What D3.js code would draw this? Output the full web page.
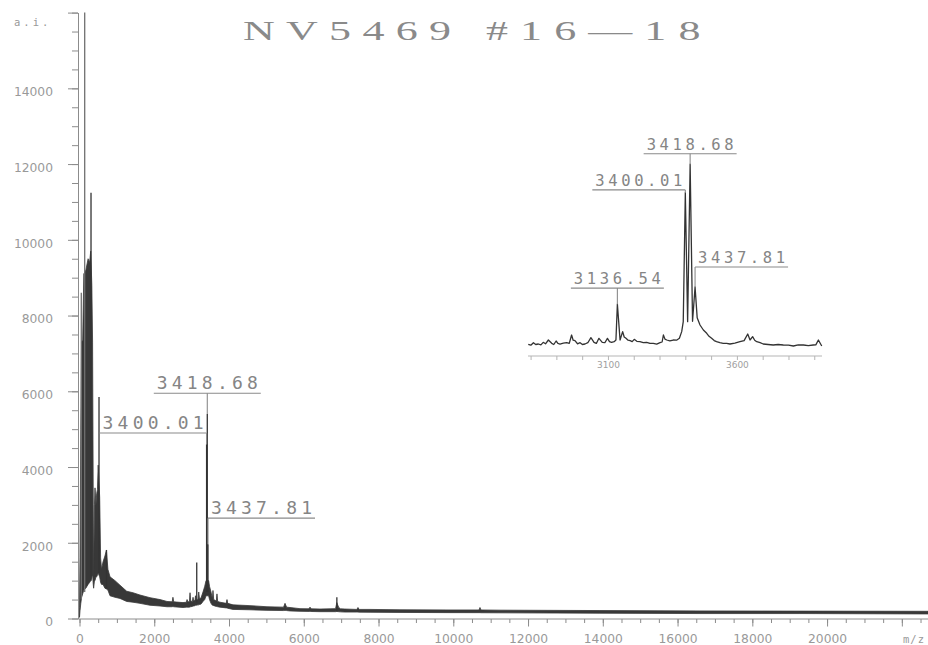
<!DOCTYPE html>
<html>
<head>
<meta charset="utf-8">
<script src="https://cdn.jsdelivr.net/npm/d3@7"></script>
<style>
	body { margin: 0; background: #ffffff; }
	svg { display: block; }
</style>
</head>
<body>
<svg id="spectrum-plot" width="928" height="645" viewBox="0 0 928 645"></svg>
<script>

// overview trace, read as a noise band: [m/z, lower edge, upper edge] in a.i.
const overview_band = [
	[0, 30, 300], [13, 200, 1600], [35, 400, 5000], [55, 550, 7300], [85, 650, 7350],
	[115, 750, 9100], [170, 800, 9200], [230, 900, 9500], [270, 950, 9400], [300, 1000, 9700],
	[330, 1100, 8800], [350, 1150, 7300], [368, 900, 3000], [378, 800, 1100], [400, 1000, 3000],
	[415, 1000, 3450], [440, 1100, 3000], [460, 1100, 3300], [480, 1150, 3400], [500, 1200, 4050],
	[540, 1100, 3200], [565, 950, 1600], [590, 900, 1300], [630, 900, 1500], [680, 800, 1650],
	[720, 780, 1800], [760, 750, 1300], [816, 600, 1100], [950, 560, 1000], [1083, 530, 880],
	[1263, 450, 720], [1431, 430, 680], [1618, 400, 620], [1886, 350, 550], [2154, 330, 500],
	[2341, 310, 450], [2480, 310, 440], [2500, 320, 560], [2520, 310, 440], [2769, 290, 420],
	[2860, 300, 430], [2877, 300, 500], [2900, 300, 440], [2940, 300, 440], [2957, 310, 680],
	[2975, 310, 460], [3020, 320, 450], [3037, 330, 560], [3055, 330, 460], [3090, 340, 480],
	[3103, 350, 600], [3118, 350, 480], [3170, 360, 500], [3190, 360, 700], [3210, 370, 520],
	[3250, 380, 540], [3304, 450, 700], [3350, 500, 850], [3385, 600, 1000], [3455, 600, 1000],
	[3478, 500, 850], [3518, 400, 700], [3555, 350, 520], [3571, 350, 740], [3590, 340, 500],
	[3660, 320, 460], [3678, 320, 650], [3696, 310, 450], [3759, 300, 430], [3925, 280, 400],
	[3946, 280, 500], [3965, 270, 400], [4107, 240, 360], [4561, 230, 340], [5016, 215, 310],
	[5460, 210, 300], [5498, 215, 400], [5540, 210, 300], [5631, 200, 290], [5899, 190, 260],
	[6140, 188, 255], [6167, 190, 300], [6195, 185, 255], [6434, 180, 250], [6850, 180, 260],
	[6885, 185, 420], [6930, 180, 300], [6980, 175, 255], [7102, 170, 250], [7420, 170, 240],
	[7450, 170, 290], [7480, 168, 240], [7772, 165, 240], [8574, 160, 230], [9912, 155, 225],
	[10690, 154, 225], [10714, 155, 290], [10740, 152, 225], [11249, 150, 220], [13924, 140, 210],
	[16600, 130, 200], [19275, 130, 195], [22700, 120, 190]
];

// narrow peaks standing out of the band: [m/z, foot, top]
const overview_spikes = [
	[48, 500, 8600], [139, 700, 17000], [308, 1000, 11240], [522, 1200, 5850], [722, 800, 1810],
	[3136.54, 420, 1480], [3400.01, 700, 4600], [3418.68, 700, 5400], [3437.81, 700, 1960],
	[6885, 190, 560]
];

// zoomed trace of the inset: [m/z, a.i.]
const inset_trace = [
	[2791, 355], [2801, 330], [2811, 401], [2820, 350], [2830, 364], [2840, 340], [2849, 411],
	[2858, 370], [2869, 476], [2882, 383], [2890, 350], [2899, 448], [2906, 380], [2914, 364],
	[2927, 390], [2940, 401], [2950, 380], [2959, 616], [2965, 470], [2972, 457], [2982, 370],
	[2992, 401], [3001, 350], [3011, 364], [3022, 400], [3034, 541], [3046, 411], [3055, 380],
	[3065, 523], [3078, 411], [3088, 400], [3098, 523], [3106, 430], [3114, 411], [3124, 430],
	[3131, 476], [3147, 476], [3157, 710], [3163, 560], [3170, 523], [3178, 470], [3186, 457],
	[3194, 430], [3202, 495], [3212, 440], [3224, 429], [3237, 400], [3250, 411], [3263, 380],
	[3276, 383], [3289, 360], [3302, 401], [3310, 420], [3315, 616], [3321, 500], [3328, 476],
	[3340, 450], [3353, 476], [3366, 470], [3377, 523], [3386, 710], [3392, 990], [3409, 990],
	[3428, 1000], [3446, 1100], [3457, 896], [3470, 756], [3483, 663], [3492, 580], [3502, 523],
	[3512, 460], [3521, 429], [3534, 400], [3547, 383], [3560, 380], [3573, 364], [3592, 390],
	[3612, 429], [3628, 460], [3642, 644], [3651, 476], [3661, 569], [3669, 470], [3677, 429],
	[3690, 400], [3702, 364], [3721, 350], [3741, 336], [3760, 350], [3780, 336], [3800, 330],
	[3819, 308], [3838, 340], [3858, 336], [3877, 320], [3896, 336], [3906, 340], [3916, 476],
	[3929, 308]
];

const main_labels = [
	{mz: 3400.01, text: "3400.01", level: 4900, side: "left"},
	{mz: 3418.68, text: "3418.68", level: 5950, side: "center"},
	{mz: 3437.81, text: "3437.81", level: 2650, side: "right"}
];

const inset_labels = [
	{mz: 3136.54, text: "3136.54", level: 1930, side: "center"},
	{mz: 3400.01, text: "3400.01", level: 4680, side: "left"},
	{mz: 3418.68, text: "3418.68", level: 5690, side: "center"},
	{mz: 3437.81, text: "3437.81", level: 2520, side: "right"}
];

const x_major_ticks = [0, 2000, 4000, 6000, 8000, 10000, 12000, 14000, 16000, 18000, 20000, 22000];
const y_major_ticks = [0, 2000, 4000, 6000, 8000, 10000, 12000, 14000, 16000];
const inset_ticks = [2800, 2900, 3000, 3100, 3200, 3300, 3400, 3500, 3600, 3700, 3800, 3900];
const inset_tick_labels = [3100, 3600];

const title_name = "NV5469";
const title_fractions = "#16\u201418";

class SpectrumPlot {

	drawLabels(group, labels, x_scale, y_scale, font_size, text_length) {
		const line_length = text_length + 6;

		labels.forEach(label => {
			const peak = overview_spikes.find(s => s[0] === label.mz);
			const px = x_scale(label.mz);
			const ly = y_scale(label.level);
			let x0 = px - line_length / 2;
			let x1 = px + line_length / 2;
			if (label.side === "left") { x0 = px - line_length; x1 = px; }
			if (label.side === "right") { x0 = px; x1 = px + line_length; }

			group.append("line")
				.attr("x1", x0).attr("x2", x1)
				.attr("y1", ly).attr("y2", ly)
				.attr("stroke", "#8a8a8a")
				.attr("stroke-width", 1.1);

			group.append("line")
				.attr("x1", px).attr("x2", px)
				.attr("y1", ly).attr("y2", y_scale(peak[2]))
				.attr("stroke", "#8a8a8a")
				.attr("stroke-width", 1.1);

			group.append("text")
				.attr("x", (x0 + x1) / 2)
				.attr("y", ly - 4)
				.attr("text-anchor", "middle")
				.attr("textLength", text_length)
				.attr("lengthAdjust", "spacing")
				.style("font-family", "'DejaVu Sans Mono', monospace")
				.style("font-size", font_size + "px")
				.style("fill", "#858585")
				.text(label.text);
		});
	}

	styleAxis(axis_g, tick_color, text_color, font_size) {
		axis_g.select(".domain").attr("stroke", tick_color);
		axis_g.selectAll(".tick line").attr("stroke", tick_color);
		axis_g.selectAll(".tick text")
			.style("font-family", "'DejaVu Sans', sans-serif")
			.style("font-size", font_size + "px")
			.style("fill", text_color);
	}

	constructor(svg_element_id) {

		this.svg = d3.select("#" + svg_element_id);

		const x_scale = d3.scaleLinear()
			.domain([0, 22700])
			.range([79.5, 928]);

		const y_scale = d3.scaleLinear()
			.domain([0, 16000])
			.range([618.5, 12.6])
			.clamp(true);

		// ---- main axes
		const y_minor = d3.axisLeft(y_scale)
			.tickValues(d3.range(0, 16001, 500))
			.tickSize(6)
			.tickSizeOuter(0)
			.tickFormat("");

		const y_major = d3.axisLeft(y_scale)
			.tickValues(y_major_ticks)
			.tickSize(10)
			.tickSizeOuter(0)
			.tickPadding(15)
			.tickFormat(d => d === 16000 ? "" : d);

		const y_minor_g = this.svg.append("g")
			.attr("transform", "translate(78,0)")
			.call(y_minor);
		this.styleAxis(y_minor_g, "#8c8c8c", "#999", 12.3);

		const y_major_g = this.svg.append("g")
			.attr("transform", "translate(78,0)")
			.call(y_major);
		this.styleAxis(y_major_g, "#8c8c8c", "#999", 12.3);
		y_major_g.selectAll(".tick text").attr("dy", "0.6em");

		const x_minor = d3.axisBottom(x_scale)
			.tickValues(d3.range(0, 22501, 500))
			.tickSize(4)
			.tickSizeOuter(0)
			.tickFormat("");

		const x_major = d3.axisBottom(x_scale)
			.tickValues(x_major_ticks)
			.tickSize(7.5)
			.tickSizeOuter(0)
			.tickPadding(7.8)
			.tickFormat(d => d === 22000 ? "" : d);

		const x_minor_g = this.svg.append("g")
			.attr("transform", "translate(0,619)")
			.call(x_minor);
		this.styleAxis(x_minor_g, "#8c8c8c", "#999", 12.3);
		x_minor_g.select(".domain").attr("d", "M78,0H928");

		const x_major_g = this.svg.append("g")
			.attr("transform", "translate(0,619)")
			.call(x_major);
		this.styleAxis(x_major_g, "#8c8c8c", "#999", 12.3);
		x_major_g.select(".domain").remove();

		this.svg.append("text")
			.attr("x", 14).attr("y", 26)
			.style("font-family", "'DejaVu Sans Mono', monospace")
			.style("font-size", "10.5px")
			.style("letter-spacing", "3px")
			.style("fill", "#999")
			.text("a.i.");

		this.svg.append("text")
			.attr("x", 903).attr("y", 643)
			.style("font-family", "'DejaVu Sans Mono', monospace")
			.style("font-size", "10.5px")
			.style("letter-spacing", "1px")
			.style("fill", "#999")
			.text("m/z");

		// ---- main trace
		const band_generator = d3.area()
			.x(d => x_scale(d[0]))
			.y0(d => y_scale(d[1]))
			.y1(d => y_scale(d[2]));

		this.svg.append("path")
			.datum(overview_band)
			.attr("d", band_generator)
			.attr("fill", "#383838")
			.attr("stroke", "#383838")
			.attr("stroke-width", 0.8)
			.attr("stroke-linejoin", "round");

		this.svg.append("g").selectAll("line")
			.data(overview_spikes)
			.enter()
			.append("line")
				.attr("x1", d => x_scale(d[0]))
				.attr("x2", d => x_scale(d[0]))
				.attr("y1", d => y_scale(d[1]))
				.attr("y2", d => y_scale(d[2]))
				.attr("stroke", d => d[0] < 200 ? "#707070" : "#333")
				.attr("stroke-width", 1.3);

		this.drawLabels(this.svg.append("g"), main_labels, x_scale, y_scale, 18, 101);

		// ---- inset
		const inset_x = d3.scaleLinear()
			.domain([2790, 3930])
			.range([528, 822]);

		const inset_y = d3.scaleLinear()
			.domain([0, 5500])
			.range([357, 160.6]);

		const inset_axis = d3.axisBottom(inset_x)
			.tickValues(inset_ticks)
			.tickSize(4)
			.tickSizeOuter(0)
			.tickPadding(1.6)
			.tickFormat(d => inset_tick_labels.includes(d) ? d : "");

		const inset_axis_g = this.svg.append("g")
			.attr("transform", "translate(0,356)")
			.call(inset_axis);
		this.styleAxis(inset_axis_g, "#b5b5b5", "#a0a0a0", 9);
		inset_axis_g.select(".domain").attr("d", "M528,0H822");

		const inset_points = inset_trace
			.concat(overview_spikes
				.filter(s => s[0] > 2790 && s[0] < 3930)
				.map(s => [s[0], s[2]]))
			.sort((a, b) => a[0] - b[0]);

		const line_generator = d3.line()
			.x(d => inset_x(d[0]))
			.y(d => inset_y(d[1]));

		this.svg.append("path")
			.datum(inset_points)
			.attr("d", line_generator)
			.attr("fill", "none")
			.attr("stroke", "#333")
			.attr("stroke-width", 1.3)
			.attr("stroke-linejoin", "round");

		this.drawLabels(this.svg.append("g"), inset_labels, inset_x, inset_y, 15.5, 87);

		// ---- title
		const title_g = this.svg.append("g")
			.style("font-family", "'Liberation Serif', serif")
			.style("font-size", "27.5px")
			.style("fill", "#8a8a8a");

		title_g.append("text")
			.attr("transform", "translate(243,40) scale(1.6,1)")
			.attr("textLength", 130)
			.attr("lengthAdjust", "spacing")
			.text(title_name);

		title_g.append("text")
			.attr("transform", "translate(486,40) scale(1.6,1)")
			.attr("textLength", 134)
			.attr("lengthAdjust", "spacing")
			.text(title_fractions);
	}
}

function whenDocumentLoaded(action) {
	if (document.readyState === "loading") {
		document.addEventListener("DOMContentLoaded", action);
	} else {
		action();
	}
}

whenDocumentLoaded(() => {
	plot_object = new SpectrumPlot("spectrum-plot");
});
</script>
</body>
</html>
